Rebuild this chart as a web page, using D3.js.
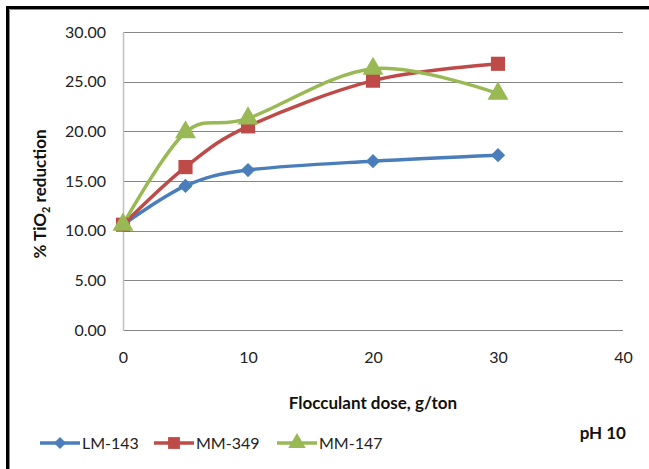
<!DOCTYPE html>
<html>
<head>
<meta charset="utf-8">
<script src="https://cdn.jsdelivr.net/npm/d3@7"></script>
<style>
  html, body { margin: 0; padding: 0; background: #fff; }
  svg { display: block; font-family: Lato, "Open Sans", sans-serif; }
</style>
</head>
<body>
<svg id="chart" width="649" height="469"></svg>
<script>
// Flocculant dose (g/ton) and % TiO2 reduction at pH 10
const doses = [0, 5, 10, 20, 30];
const lm143 = [10.6, 14.5, 16.1, 17.0, 17.6];
const mm349 = [10.6, 16.4, 20.5, 25.1, 26.8];
const mm147 = [10.6, 19.9, 21.3, 26.3, 23.8];
const seriesNames = ["LM-143", "MM-349", "MM-147"];
const xTicks = [0, 10, 20, 30, 40];
const yTicks = [0, 5, 10, 15, 20, 25, 30];

const colors = ["#4a7ebb", "#be4b48", "#98b954"];
const symbols = [d3.symbolDiamond2, d3.symbolSquare, d3.symbolTriangle];
const symbolSizes = [130, 200, 190];

const svg = d3.select("#chart");
const W = 649, H = 469;

// outer frame
svg.append("path")
  .attr("d", `M7.5,${H + 5}V7.5H${W + 5}`)
  .attr("fill", "none").attr("stroke", "#000").attr("stroke-width", 3);
svg.append("path")
  .attr("d", `M9.5,${H + 5}V9.5H${W + 5}`)
  .attr("fill", "none").attr("stroke", "#8c8c8c").attr("stroke-width", 1);

const plot = { left: 123, right: 623, top: 32, bottom: 330 };
const x = d3.scaleLinear().domain([0, 40]).range([plot.left, plot.right]);
const y = d3.scaleLinear().domain([0, 30]).range([plot.bottom, plot.top]);

// horizontal gridlines
svg.append("g")
  .selectAll("line")
  .data(yTicks)
  .join("line")
  .attr("x1", plot.left).attr("x2", plot.right)
  .attr("y1", d => Math.round(y(d)) + 0.5).attr("y2", d => Math.round(y(d)) + 0.5)
  .attr("stroke", "#868686").attr("stroke-width", 1);

// vertical axis line
svg.append("line")
  .attr("x1", plot.left + 0.5).attr("x2", plot.left + 0.5)
  .attr("y1", plot.top).attr("y2", plot.bottom + 1)
  .attr("stroke", "#bfbfbf").attr("stroke-width", 1.5);

// y axis (labels only)
const yAxis = svg.append("g")
  .attr("transform", `translate(${plot.left},0)`)
  .call(d3.axisLeft(y).tickValues(yTicks).tickFormat(d3.format(".2f")).tickSize(0).tickPadding(17));
yAxis.select(".domain").remove();
yAxis.selectAll("text").attr("font-size", 16).attr("fill", "#222")
  .attr("font-family", "Lato, sans-serif");

// x axis (labels only)
const xAxis = svg.append("g")
  .attr("transform", `translate(0,${plot.bottom})`)
  .call(d3.axisBottom(x).tickValues(xTicks).tickFormat(d3.format("d")).tickSize(0).tickPadding(22));
xAxis.select(".domain").remove();
xAxis.selectAll("text").attr("font-size", 16).attr("fill", "#222")
  .attr("font-family", "Lato, sans-serif");

// axis titles
svg.append("text")
  .attr("x", (plot.left + plot.right) / 2).attr("y", 409)
  .attr("text-anchor", "middle").attr("font-size", 17).attr("font-weight", "bold")
  .attr("fill", "#111")
  .text("Flocculant dose, g/ton");

const yTitle = svg.append("text")
  .attr("transform", "translate(46,194) rotate(-90)")
  .attr("text-anchor", "middle").attr("font-size", 17).attr("font-weight", "bold")
  .attr("fill", "#111");
yTitle.append("tspan").text("% TiO");
yTitle.append("tspan").attr("font-size", 11).attr("dy", 4).text("2");
yTitle.append("tspan").attr("dy", -4).text(" reduction");

// series
const allSeries = [lm143, mm349, mm147];
const line = d3.line()
  .x(d => x(d[0])).y(d => y(d[1]))
  .curve(d3.curveCardinal.tension(0));

allSeries.forEach((vals, i) => {
  const pts = doses.map((d, j) => [d, vals[j]]);
  svg.append("path")
    .datum(pts)
    .attr("d", line)
    .attr("fill", "none")
    .attr("stroke", colors[i]).attr("stroke-width", 3.5)
    .attr("stroke-linejoin", "round").attr("stroke-linecap", "round");
});
allSeries.forEach((vals, i) => {
  const pts = doses.map((d, j) => [d, vals[j]]);
  svg.append("g")
    .selectAll("path")
    .data(pts)
    .join("path")
    .attr("transform", d => `translate(${x(d[0])},${y(d[1])})`)
    .attr("d", d3.symbol().type(symbols[i]).size(symbolSizes[i]))
    .attr("fill", colors[i]);
});

// legend
const legendX = [40, 154, 277];
const legendY = 443;
seriesNames.forEach((name, i) => {
  const g = svg.append("g").attr("transform", `translate(${legendX[i]},${legendY})`);
  g.append("line").attr("x1", 0).attr("x2", 40).attr("y1", 0).attr("y2", 0)
    .attr("stroke", colors[i]).attr("stroke-width", 3.5);
  g.append("path").attr("transform", "translate(20,0)")
    .attr("d", d3.symbol().type(symbols[i]).size(symbolSizes[i] * 0.7))
    .attr("fill", colors[i]);
  g.append("text").attr("x", 42).attr("y", 6)
    .attr("font-size", 16).attr("fill", "#222").text(name);
});

svg.append("text")
  .attr("x", 626).attr("y", 439)
  .attr("text-anchor", "end").attr("font-size", 17).attr("font-weight", "bold")
  .attr("fill", "#111")
  .text("pH 10");
</script>
</body>
</html>
